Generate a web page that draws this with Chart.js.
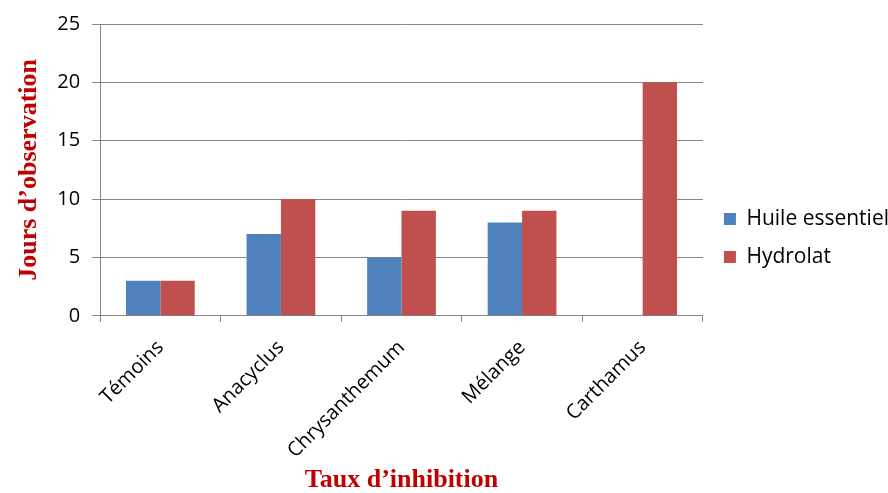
<!DOCTYPE html>
<html>
<head>
<meta charset="utf-8">
<script src="https://cdn.jsdelivr.net/npm/chart.js@4"></script>
<style>
    html, body { margin: 0; padding: 0; background: #fff; }
    #wrap { width: 888px; height: 493px; }
</style>
</head>
<body>
<div id="wrap"><canvas id="chart" width="888" height="493"></canvas></div>
<script>
// Chart data
const categories = ['Témoins', 'Anacyclus', 'Chrysanthemum', 'Mélange', 'Carthamus'];
const huileValues = [3, 7, 5, 8, 0];
const hydrolatValues = [3, 10, 9, 9, 20];
const yTicks = [0, 5, 10, 15, 20, 25];

const gridColor = '#868686';
const tickFont = { family: 'Open Sans', size: 20 };
const legendFont = { family: 'Open Sans', size: 21 };
const titleFont = { family: 'Liberation Serif', size: 26, weight: 'bold' };

// nudge the legend a bit up, like the original
const legendShift = {
    id: 'legendShift',
    afterLayout(chart) {
        const lg = chart.legend;
        lg.top -= 12;
        lg.bottom -= 12;
        lg.left += 4;
        lg.right += 4;
    }
};

const ctx = document.getElementById('chart').getContext('2d');
new Chart(ctx, {
    type: 'bar',
    data: {
        labels: categories,
        datasets: [
            { label: 'Huile essentiel', data: huileValues, backgroundColor: '#4F81BD', borderWidth: 0 },
            { label: 'Hydrolat', data: hydrolatValues, backgroundColor: '#C0504D', borderWidth: 0 }
        ]
    },
    plugins: [legendShift],
    options: {
        responsive: false,
        animation: false,
        layout: { padding: { left: 14, right: -7, top: 7, bottom: 0 } },
        datasets: { bar: { categoryPercentage: 0.57, barPercentage: 1.0 } },
        plugins: {
            legend: {
                position: 'right',
                labels: {
                    color: '#000',
                    font: legendFont,
                    boxWidth: 12,
                    boxHeight: 12,
                    padding: 17
                }
            },
            tooltip: { enabled: false }
        },
        scales: {
            x: {
                grid: {
                    offset: true,
                    drawOnChartArea: false,
                    drawTicks: true,
                    tickLength: 6,
                    color: gridColor
                },
                border: { color: gridColor },
                ticks: {
                    color: '#000',
                    font: tickFont,
                    minRotation: 45,
                    maxRotation: 45,
                    padding: 14
                },
                title: {
                    display: true,
                    text: 'Taux d’inhibition',
                    color: '#C00000',
                    font: { ...titleFont, lineHeight: 1 },
                    padding: { top: -10, bottom: 0 }
                }
            },
            y: {
                min: 0,
                max: 25,
                afterBuildTicks: axis => { axis.ticks = yTicks.map(v => ({ value: v })); },
                grid: {
                    color: gridColor,
                    tickLength: 8
                },
                border: { color: gridColor },
                ticks: {
                    color: '#000',
                    font: tickFont,
                    padding: 12
                },
                title: {
                    display: true,
                    text: 'Jours d’observation',
                    color: '#C00000',
                    font: titleFont,
                    padding: { top: 0, bottom: 0 }
                }
            }
        }
    }
});
</script>
</body>
</html>
